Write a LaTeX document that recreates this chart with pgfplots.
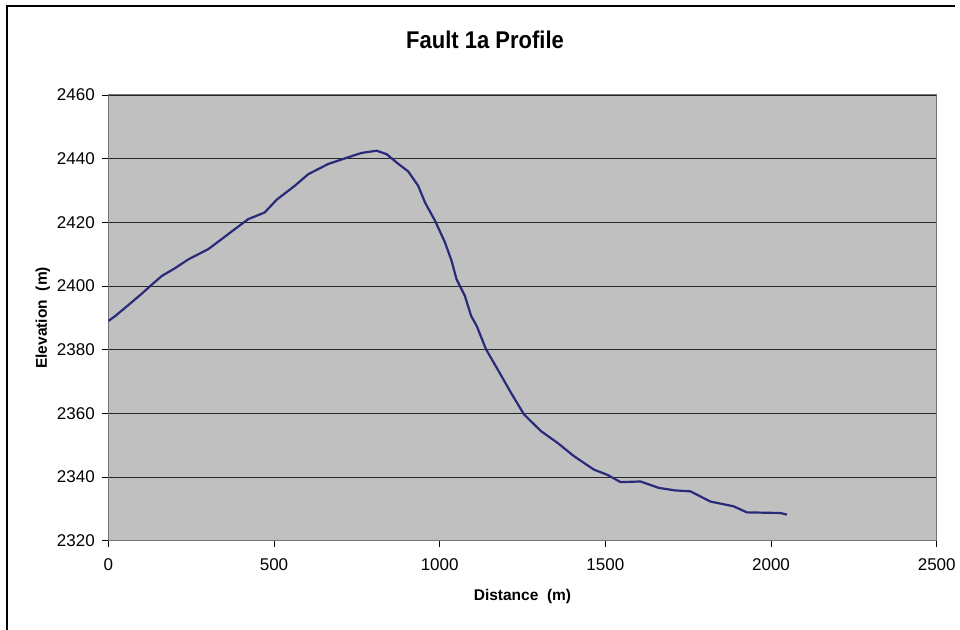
\documentclass[border=0pt]{standalone}
\usepackage{fontspec}
\setmainfont{Liberation Sans}
\usepackage{pgfplots}
\pgfplotsset{compat=1.18}

\definecolor{plotbg}{RGB}{192,192,192}
\definecolor{profile}{RGB}{42,42,122}

\begin{document}
\begin{tikzpicture}
\useasboundingbox (0pt,0pt) rectangle (960pt,629pt);
% outer chart frame (cropped at right and bottom)
\draw[black, line width=1.2pt] (7pt,-5pt) -- (7pt,623pt) -- (955pt,623pt);
\node[font=\fontsize{22}{25}\selectfont\bfseries, yscale=1.1] at (485pt,589pt) {Fault 1a Profile};

\begin{axis}[
    at={(108.3pt,88.3pt)}, anchor=south west,
    scale only axis,
    width=828.4pt, height=445.7pt,
    xmin=0, xmax=2500, ymin=2320, ymax=2460,
    xtick={0,500,...,2500},
    ytick={2320,2340,...,2460},
    axis background/.style={fill=plotbg},
    axis line style={draw=gray!90!black, line width=1pt},
    ymajorgrids,
    grid style={black!85, line width=0.9pt},
    tick align=outside,
    major tick length=6pt,
    tick style={black, line width=0.8pt},
    xtick pos=bottom, ytick pos=left,
    ticklabel style={font=\fontsize{17}{20}\selectfont},
    /pgf/number format/assume math mode=true,
    /pgf/number format/1000 sep={},
    xticklabel style={yshift=-8pt},
    yticklabel style={xshift=-4pt},
    xlabel={Distance\ \ (m)},
    ylabel={Elevation\ \ (m)},
    label style={font=\fontsize{15.5}{18}\selectfont\bfseries},
    xlabel style={yshift=-12pt},
    ylabel style={yshift=0pt},
]
\addplot[profile, line width=2.2pt, line join=round] coordinates {
(0,2389) (20,2390.5) (57,2393.7) (100,2397.5) (132,2400.5) (162,2403.2)
(200,2405.5) (242,2408.4) (302,2411.6) (362,2416.3) (422,2421) (472,2423.1)
(508,2427.1) (563,2431.5) (603,2435.1) (663,2438.3) (723,2440.4) (764,2441.8)
(810,2442.5) (840,2441.4) (876,2438.3) (905,2436) (935,2431.5) (956,2426.2)
(986,2420.5) (1016,2413.7) (1036,2407.9) (1051,2402.1) (1076,2396.9) (1095,2390.6)
(1112,2387.4) (1140,2380.1) (1175,2373.8) (1215,2366.5) (1255,2359.6) (1306,2354.4)
(1356,2350.7) (1406,2346.5) (1466,2342.3) (1506,2340.7) (1546,2338.4) (1606,2338.6)
(1661,2336.6) (1710,2335.8) (1757,2335.5) (1817,2332.3) (1887,2330.8) (1927,2328.9)
(2028,2328.7) (2048,2328.2)
};
\end{axis}
\end{tikzpicture}
\end{document}
